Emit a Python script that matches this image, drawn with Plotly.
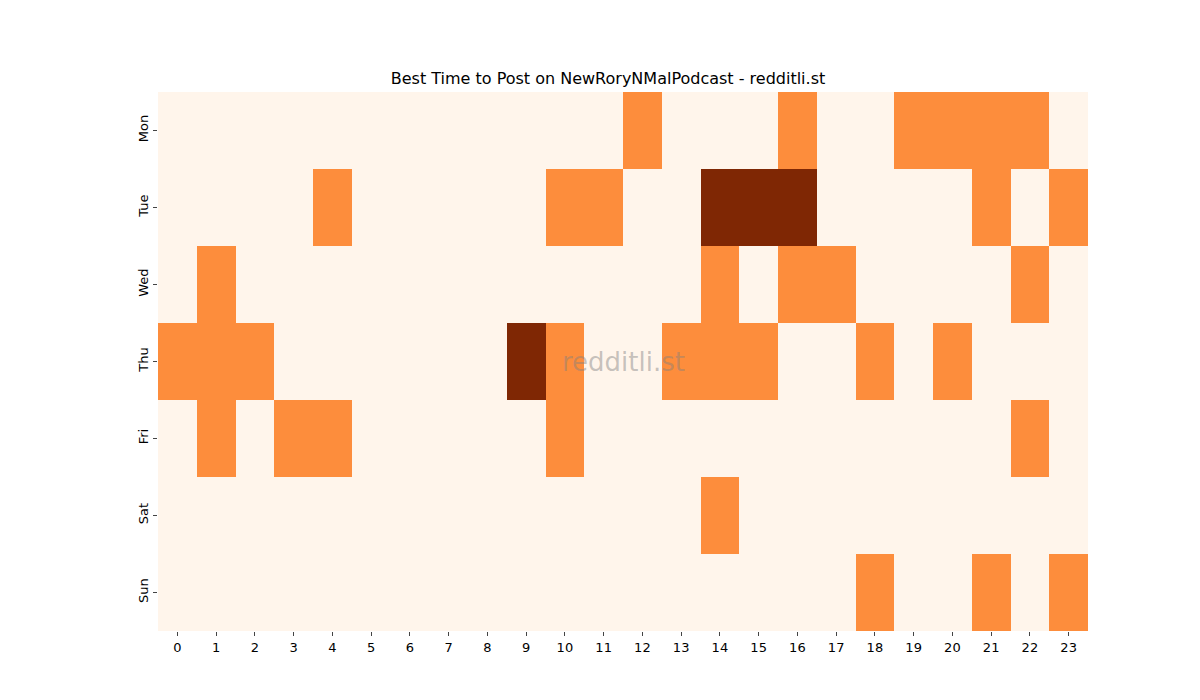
import plotly.graph_objects as go

hours = [str(h) for h in range(24)]
days = ["Mon", "Tue", "Wed", "Thu", "Fri", "Sat", "Sun"]

# 0 = none, 1 = some, 2 = most
orange_cells = {
    "Mon": [12, 16, 19, 20, 21, 22],
    "Tue": [4, 10, 11, 21, 23],
    "Wed": [1, 14, 16, 17, 22],
    "Thu": [0, 1, 2, 10, 13, 14, 15, 18, 20],
    "Fri": [1, 3, 4, 10, 22],
    "Sat": [14],
    "Sun": [18, 21, 23],
}
dark_cells = {
    "Tue": [14, 15, 16],
    "Thu": [9],
}

z = []
for d in days:
    row = [0] * 24
    for h in orange_cells.get(d, []):
        row[h] = 1
    for h in dark_cells.get(d, []):
        row[h] = 2
    z.append(row)

colorscale = [[0, "#fff5eb"], [0.5, "#fd8d3c"], [1, "#7f2704"]]

fig = go.Figure(go.Heatmap(z=z, x=hours, y=days, colorscale=colorscale,
                           zmin=0, zmax=2, showscale=False, hoverinfo="skip"))
fig.update_layout(
    width=1200, height=700,
    margin=dict(l=150, r=120, t=84, b=77),
    plot_bgcolor="white", paper_bgcolor="white",
    font=dict(family="DejaVu Sans", size=13, color="black"),
    title=dict(text="Best Time to Post on NewRoryNMalPodcast - redditli.st",
               x=0.5, xanchor="center", y=1 - 70 / 700, yanchor="middle",
               font=dict(size=16)),
    annotations=[dict(text="redditli.st", x=0.5, y=0.5, xref="paper", yref="paper",
                      showarrow=False, font=dict(size=26, color="rgba(128,128,128,0.45)"))],
)
fig.update_xaxes(type="category", ticks="outside", ticklen=4, showgrid=False,
                 showline=False, tickfont=dict(size=13))
fig.update_yaxes(type="category", autorange="reversed", ticks="outside", ticklen=4,
                 tickangle=-90, showgrid=False, showline=False, tickfont=dict(size=13))
fig.write_html("out.html")
